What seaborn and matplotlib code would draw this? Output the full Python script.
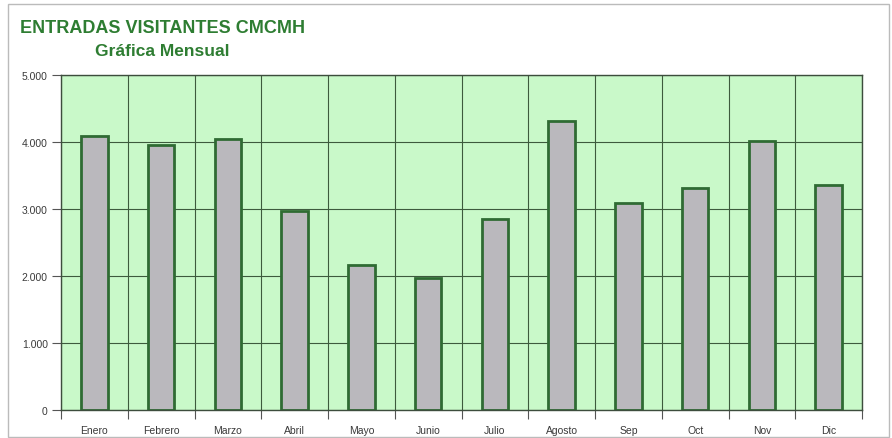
import matplotlib
matplotlib.use("Agg")
import matplotlib.pyplot as plt
import matplotlib.ticker as mticker
from matplotlib.patches import Rectangle
import seaborn as sns
import pandas as pd

months = ["Enero", "Febrero", "Marzo", "Abril", "Mayo", "Junio",
          "Julio", "Agosto", "Sep", "Oct", "Nov", "Dic"]
visitors = [4090, 3950, 4050, 2970, 2170, 1975,
            2850, 4320, 3085, 3310, 4020, 3360]
y_ticks = [0, 1000, 2000, 3000, 4000, 5000]
title_main = "ENTRADAS VISITANTES CMCMH"
title_sub = "Gráfica Mensual"

sns.set_theme(style="white")
plt.rcParams["font.family"] = ["Liberation Sans", "DejaVu Sans"]

df = pd.DataFrame({"mes": months, "visitantes": visitors})

fig = plt.figure(figsize=(8.92, 4.39), dpi=100)
fig.patch.set_facecolor("white")
ax = fig.add_axes([61/892, 1-411/439, (862-61)/892, (411-76)/439])
ax.set_facecolor("#c9f9c9")

sns.barplot(data=df, x="mes", y="visitantes", ax=ax, color="#bab8bd",
            width=0.4, edgecolor="#2f6b33", linewidth=2, saturation=1)

ax.set_ylim(0, 5000)
ax.set_xlim(-0.5, len(months) - 0.5)
ax.set_yticks(y_ticks)
ax.yaxis.set_major_formatter(mticker.FuncFormatter(lambda v, p: f"{int(v):,}".replace(",", ".")))
ax.set_xticks(range(len(months)))
ax.set_xticklabels(months)
ax.set_xticks([i + 0.5 for i in range(-1, len(months))], minor=True)
ax.set_xlabel("")
ax.set_ylabel("")

ax.set_axisbelow(True)
ax.grid(axis="y", which="major", color="#3d5a3d", linewidth=0.8)
ax.grid(axis="x", which="minor", color="#3d5a3d", linewidth=0.8)
ax.grid(axis="x", which="major", visible=False)

ax.tick_params(axis="x", which="major", length=0, pad=10.5, labelsize=7.5, labelcolor="#3a3a3a")
ax.tick_params(axis="x", which="minor", length=6.5, width=0.8, color="#555555", bottom=True)
ax.tick_params(axis="y", which="major", length=6.5, width=0.8, color="#555555", left=True,
               labelsize=7.5, labelcolor="#3a3a3a", pad=3)

for s in ax.spines.values():
    s.set_color("#3d4d3d")
    s.set_linewidth(1.0)

fig.text(20/892, 1-28.5/439, title_main, fontsize=13, fontweight="bold",
         color="#2e7d32", ha="left", va="center")
fig.text(162/892, 1-51/439, title_sub, fontsize=12.5, fontweight="bold",
         color="#2e7d32", ha="center", va="center")

fig.patches.append(Rectangle((8/892, 1-437.5/439), (889-8)/892, (437.5-5)/439,
                             transform=fig.transFigure, fill=False,
                             edgecolor="#bbbbbb", linewidth=1))

fig.savefig("out.png", dpi=100)
